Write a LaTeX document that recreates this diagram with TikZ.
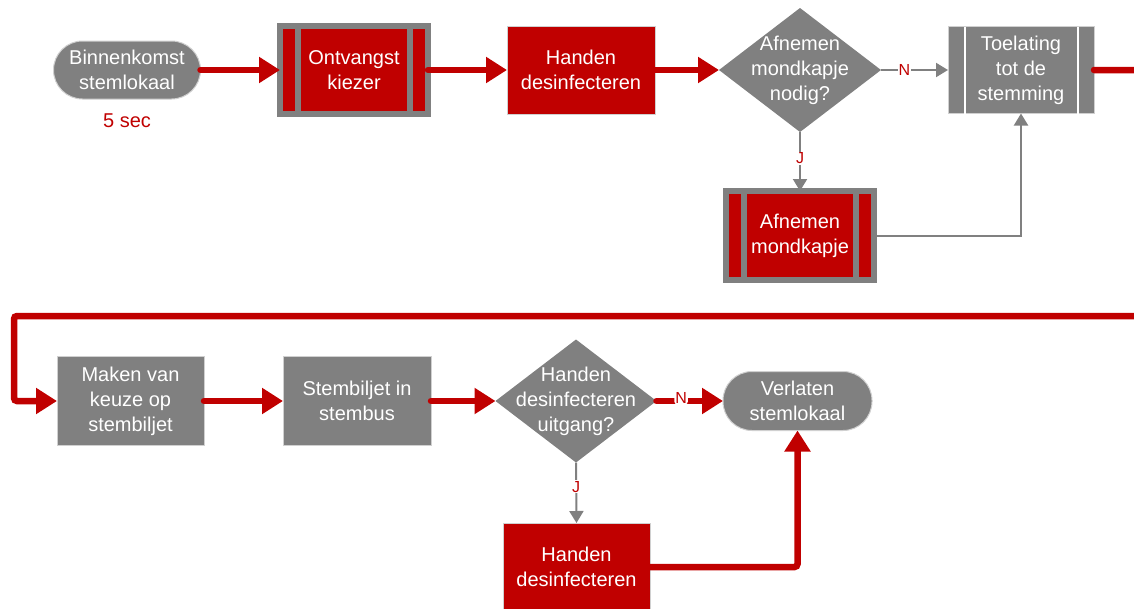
\documentclass[tikz,border=0pt]{standalone}
\usepackage{fontspec}
\setmainfont{Liberation Sans}
\usetikzlibrary{shapes.geometric,arrows.meta}
\definecolor{rd}{HTML}{C00000}
\definecolor{gr}{HTML}{808080}
\definecolor{lg}{HTML}{D0D0D0}
\begin{document}
\begin{tikzpicture}[x=1pt,y=-1pt,
  txt/.style={text=white,font=\fontsize{20}{25}\selectfont,align=center,inner sep=0pt,outer sep=0pt},
  grbox/.style={txt,fill=gr,draw=lg,line width=1pt},
  rdbox/.style={txt,fill=rd,draw=lg,line width=1pt},
  predef/.style={txt,fill=rd,draw=gr,line width=6pt},
  pill/.style={txt,fill=gr,draw=lg,line width=1pt,rounded corners=29pt},
  dec/.style={diamond,fill=gr,inner sep=0pt,outer sep=0pt},
  dectxt/.style={txt},
  redarrow/.style={draw=rd,line width=6.5pt,line cap=round,rounded corners=3pt,-{Triangle[length=21pt,width=25pt]}},
  grayarrow/.style={draw=gr,line width=2pt,-{Triangle[length=12pt,width=14pt]}},
  lbl/.style={text=rd,fill=white,inner sep=1pt,font=\fontsize{16}{16}\selectfont},
  note/.style={text=rd,font=\fontsize{20}{25}\selectfont}
]
\useasboundingbox (0,0) rectangle (1134,608);

% row 1
\node[pill,minimum width=147pt,minimum height=58pt] (bk) at (127,70) {Binnenkomst\\stemlokaal};
\node[note] (sec) at (127,121) {5 sec};
\node[predef,minimum width=148pt,minimum height=88pt] (ok) at (354,70) {Ontvangst\\kiezer};
\fill[gr] ([xshift=15pt]ok.north west) rectangle ([xshift=21pt]ok.south west);
\fill[gr] ([xshift=-21pt]ok.north east) rectangle ([xshift=-15pt]ok.south east);
\node[rdbox,minimum width=148pt,minimum height=88pt] (hd) at (581,70) {Handen\\desinfecteren};
\node[dec,minimum width=162pt,minimum height=124pt,label={[dectxt]center:Afnemen\\mondkapje\\nodig?}] (q1) at (800,70) {};
\node[grbox,minimum width=146pt,minimum height=87pt] (toel) at (1021,70) {Toelating\\tot de\\stemming};
\draw[white,line width=1.5pt] ([xshift=17pt]toel.north west) -- ([xshift=17pt]toel.south west);
\draw[white,line width=1.5pt] ([xshift=-16pt]toel.north east) -- ([xshift=-16pt]toel.south east);
\node[predef,minimum width=148pt,minimum height=89pt] (am) at (800,235.5) {Afnemen\\mondkapje};
\fill[gr] ([xshift=15pt]am.north west) rectangle ([xshift=21pt]am.south west);
\fill[gr] ([xshift=-21pt]am.north east) rectangle ([xshift=-15pt]am.south east);

% row 2
\node[grbox,minimum width=147pt,minimum height=89pt] (mk) at (130.5,401) {Maken van\\keuze op\\stembiljet};
\node[grbox,minimum width=148pt,minimum height=89pt] (sb) at (357,401) {Stembiljet in\\stembus};
\node[dec,minimum width=161pt,minimum height=123pt,label={[dectxt]center:Handen\\desinfecteren\\uitgang?}] (q2) at (576,401) {};
\node[pill,minimum width=149pt,minimum height=59pt] (vl) at (797.5,401) {Verlaten\\stemlokaal};
\node[rdbox,minimum width=147pt,minimum height=88pt] (h2) at (576.5,567) {Handen\\desinfecteren};

% connectors
\draw[redarrow] (bk.east) -- (ok.west);
\draw[redarrow] (ok.east) -- (hd.west);
\draw[redarrow] (hd.east) -- (q1.west);
\draw[grayarrow] (q1.east) -- node[lbl,pos=0.35] {N} (toel.west);
\draw[grayarrow] (q1.south) -- node[lbl,pos=0.45] {J} (am.north);
\draw[grayarrow] (am.east) -| (toel.south);
\draw[redarrow] (toel.east) -- (1160,70) -- (1160,316) -- (14,316) |- (mk.west);
\draw[redarrow] (mk.east) -- (sb.west);
\draw[redarrow] (sb.east) -- (q2.west);
\draw[redarrow] (q2.east) -- node[lbl,pos=0.37,yshift=3pt] {N} (vl.west);
\draw[grayarrow] (q2.south) -- node[lbl,pos=0.4] {J} (h2.north);
\draw[redarrow] (h2.east) -| (vl.south);
\end{tikzpicture}
\end{document}
